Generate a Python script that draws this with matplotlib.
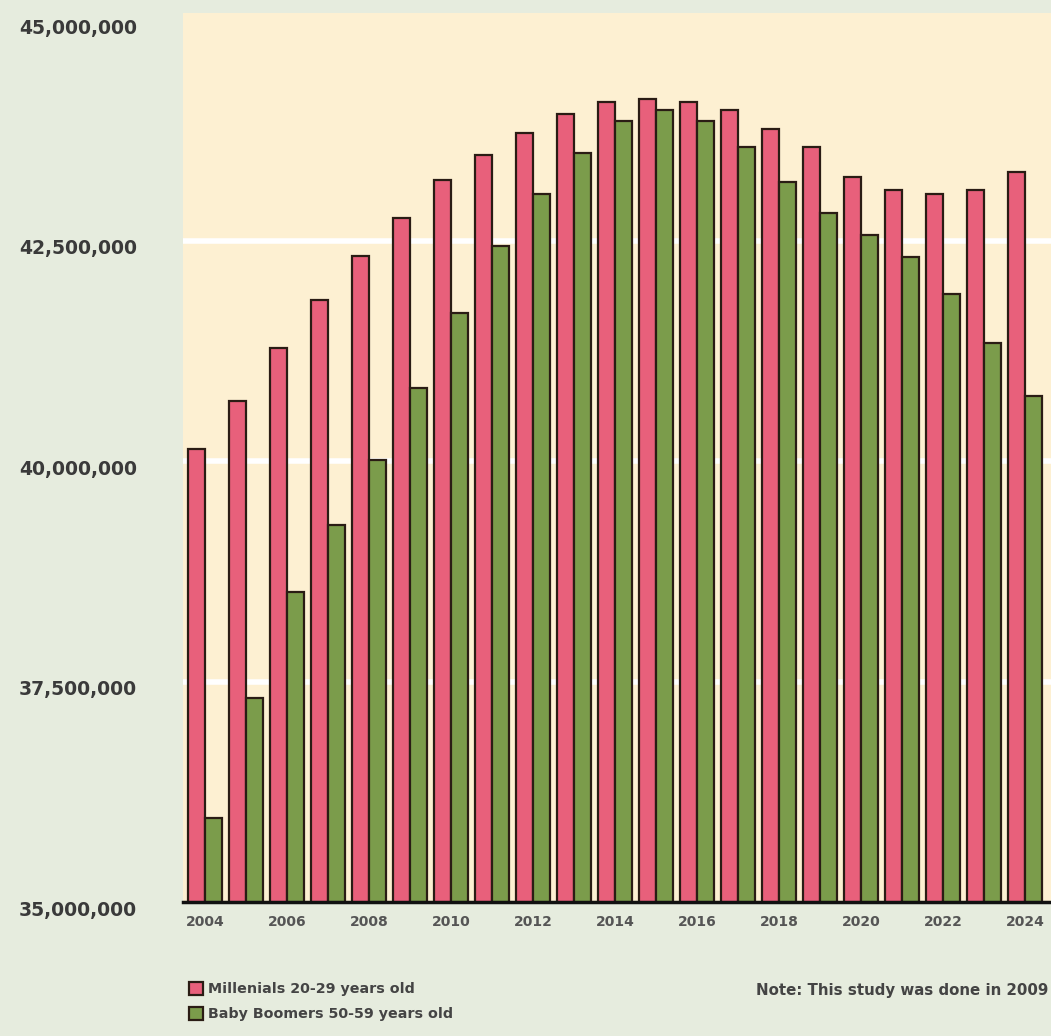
import numpy as np
import matplotlib
matplotlib.use("Agg")
import matplotlib.pyplot as plt
import matplotlib.transforms as mtransforms
from matplotlib.ticker import FixedLocator

# Population projections (people)
years = list(range(2004, 2025))
millennials = [40.14e6, 40.68e6, 41.28e6, 41.83e6, 42.32e6, 42.76e6, 43.19e6,
               43.47e6, 43.72e6, 43.93e6, 44.07e6, 44.10e6, 44.07e6, 43.98e6,
               43.77e6, 43.56e6, 43.22e6, 43.07e6, 43.03e6, 43.07e6, 43.28e6]
boomers = [35.95e6, 37.31e6, 38.52e6, 39.28e6, 40.01e6, 40.83e6, 41.68e6,
           42.44e6, 43.03e6, 43.49e6, 43.86e6, 43.98e6, 43.86e6, 43.56e6,
           43.16e6, 42.81e6, 42.56e6, 42.31e6, 41.89e6, 41.34e6, 40.74e6]
series_labels = ["Millenials 20-29 years old", "Baby Boomers 50-59 years old"]
y_ticks = [35e6, 37.5e6, 40e6, 42.5e6, 45e6]
y_tick_labels = ["35,000,000", "37,500,000", "40,000,000", "42,500,000", "45,000,000"]
x_tick_years = years[::2]
note = "Note: This study was done in 2009"

PINK = "#E8607B"
GREEN = "#7B9C4B"
EDGE = "#2A1C14"
FIG_BG = "#E6ECDE"
AX_BG = "#FDF0D2"
TEXT = "#3A3A3A"

W, H = 1051, 1036
fig = plt.figure(figsize=(W / 100, H / 100), dpi=100, facecolor=FIG_BG)
ax = fig.add_axes([183 / W, (H - 902) / H, (W - 183) / W, (902 - 13) / H])
ax.set_facecolor(AX_BG)

x = np.arange(len(years))
bw = 0.415
b1 = ax.bar(x - bw / 2, millennials, width=bw, color=PINK, edgecolor=EDGE,
            linewidth=1.6, zorder=3, label=series_labels[0])
b2 = ax.bar(x + bw / 2, boomers, width=bw, color=GREEN, edgecolor=EDGE,
            linewidth=1.6, zorder=3, label=series_labels[1])

ax.set_xlim(-0.54, len(years) - 1 + 0.63)
ax.set_ylim(35e6, 45.08e6)

# white horizontal guides behind the bars (none at the top value)
ax.yaxis.set_major_locator(FixedLocator(y_ticks))
ax.set_yticklabels(y_tick_labels)
ax.grid(axis="y", color="white", linewidth=4, zorder=1)
ax.set_axisbelow(True)
fig.canvas.draw()
for val, gl in zip(y_ticks, ax.yaxis.get_gridlines()):
    if val in (35e6, 45e6):
        gl.set_visible(False)

ax.tick_params(axis="y", length=0, pad=118, labelsize=13.5, labelcolor=TEXT)
shift = mtransforms.ScaledTranslation(0, -6 / 100, fig.dpi_scale_trans)
for lbl in ax.get_yticklabels():
    lbl.set_horizontalalignment("left")
    lbl.set_fontweight("bold")
    lbl.set_transform(lbl.get_transform() + shift)

ax.set_xticks([years.index(y) for y in x_tick_years])
ax.set_xticklabels([str(y) for y in x_tick_years])
ax.tick_params(axis="x", length=0, pad=9, labelsize=10, labelcolor="#555555")
for lbl in ax.get_xticklabels():
    lbl.set_fontweight("bold")

for side in ("top", "right", "left"):
    ax.spines[side].set_visible(False)
ax.spines["bottom"].set_color("#111111")
ax.spines["bottom"].set_linewidth(2.5)
ax.spines["bottom"].set_zorder(4)

leg = fig.legend(handles=[b1, b2], loc="upper left",
                 bbox_to_anchor=(189 / W, 1 - 982 / H), frameon=False,
                 handlelength=1.0, handleheight=1.0, handletextpad=0.35,
                 labelspacing=0.75, borderaxespad=0, borderpad=0,
                 prop={"size": 10.3, "weight": "bold"})
for t in leg.get_texts():
    t.set_color("#444444")

fig.text(1048 / W, 1 - 990 / H, note, ha="right", va="center",
         fontsize=10.8, fontweight="bold", color="#444444")

fig.savefig("out.png", dpi=100, facecolor=FIG_BG)
